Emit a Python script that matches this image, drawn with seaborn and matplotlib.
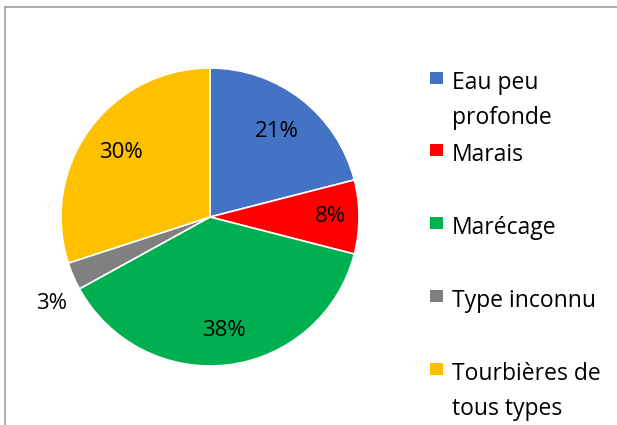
import numpy as np
import matplotlib
matplotlib.use("Agg")
import matplotlib.pyplot as plt
import seaborn as sns
from matplotlib.patches import Rectangle
from matplotlib.lines import Line2D

categories = ["Eau peu\nprofonde", "Marais", "Marécage", "Type inconnu", "Tourbières de\ntous types"]
values = [21, 8, 38, 3, 30]
colors = ["#4472C4", "#FF0000", "#00B050", "#808080", "#FFC000"]

sns.set_theme(style="white")
plt.rcParams["font.family"] = ["Open Sans", "DejaVu Sans"]

W, H = 617, 425
fig = plt.figure(figsize=(W / 100, H / 100), dpi=100)

# pie axes: centre (210, 217) px, radius ~149 px
cx, cy, r = 210, 217, 149
ax = fig.add_axes([(cx - r) / W, (H - cy - r) / H, 2 * r / W, 2 * r / H])

wedges, texts, autotexts = ax.pie(
    values, colors=colors, startangle=90, counterclock=False,
    autopct="%1.0f%%", pctdistance=0.75,
    wedgeprops=dict(edgecolor="white", linewidth=1.2),
    textprops=dict(fontsize=16, color="black"),
)
ax.set_xlim(-1, 1)
ax.set_ylim(-1, 1)
ax.set_aspect("auto")

# label distance from centre, per slice (small slice label sits outside,
# next to its edge toward the big green slice)
label_dist = [0.73, 0.81, 0.77, 1.21, 0.74]
for w, t, d in zip(wedges, autotexts, label_dist):
    ang = (w.theta1 + w.theta2) / 2 if d < 1 else w.theta2
    ang = np.deg2rad(ang)
    t.set_position((d * np.cos(ang), d * np.sin(ang)))

# legend drawn by hand so markers line up with the first text line
tops = [72, 144, 217, 290, 363]
for lab, col, top in zip(categories, colors, tops):
    fig.patches.append(Rectangle((430 / W, (H - top - 12) / H), 13 / W, 12 / H,
                                 transform=fig.transFigure, facecolor=col,
                                 edgecolor="none"))
    fig.text(452 / W, (H - top + 1) / H, lab, fontsize=16.5, va="top", ha="left",
             color="black", linespacing=1.6)

# chart area border
fig.add_artist(Line2D([5 / W, 1], [(H - 7) / H] * 2, transform=fig.transFigure,
                      color="#A0A0A0", linewidth=1.2))
fig.add_artist(Line2D([5 / W] * 2, [0, (H - 7) / H], transform=fig.transFigure,
                      color="#A0A0A0", linewidth=1.2))

fig.savefig("out.png", dpi=100, facecolor="white")
